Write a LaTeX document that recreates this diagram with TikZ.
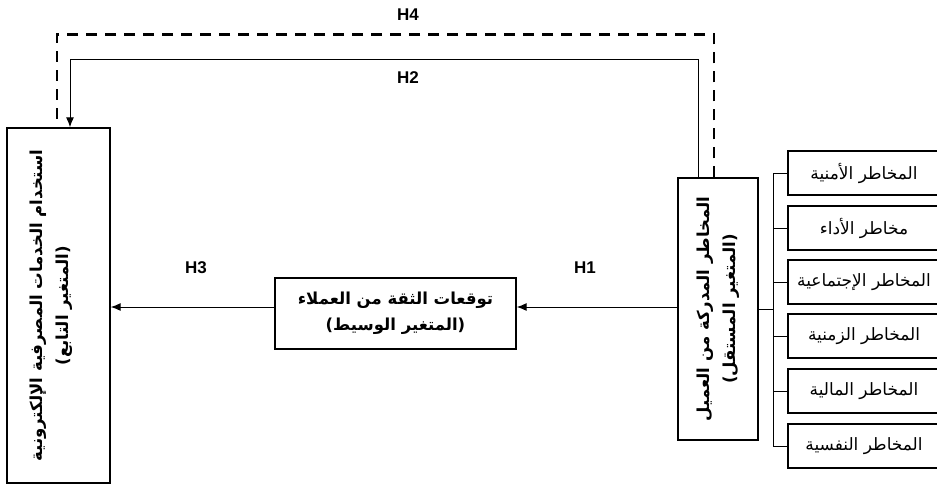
\documentclass[tikz,border=0pt]{standalone}
\usepackage{fontspec}
\setmainfont{Liberation Sans}
\newfontfamily\arabicfont[Script=Arabic]{DejaVu Sans}
\TeXXeTstate=1
\usetikzlibrary{arrows.meta}
\begin{document}
\begin{tikzpicture}[x=1pt,y=-1pt,
  boxst/.style={draw,line width=1.4pt,inner sep=0pt},
  smallbox/.style={draw,line width=1.1pt,minimum width=152pt,minimum height=44pt,inner sep=0pt,font=\arabicfont\fontsize{17}{20}\selectfont},
  arr/.style={line width=1pt,-{Latex[length=10pt,width=8pt]}},
  thin/.style={line width=1pt},
  dsh/.style={line width=2.8pt,dash pattern=on 11pt off 8pt},
  hlab/.style={font=\bfseries\fontsize{17}{20}\selectfont},
  btext/.style={font=\arabicfont\bfseries\fontsize{16.5}{26}\selectfont,align=center}
]
\useasboundingbox (0,0) rectangle (937,490);
\fill[white] (0,0) rectangle (937,490);

% left box (dependent)
\node[boxst,minimum width=103pt,minimum height=355pt] (dv) at (58.5,305.5) {};
\node[btext,rotate=90] (dvt) at ([xshift=-7pt]dv.center) {\beginR استخدام الخدمات المصرفية الإلكترونية\endR\\\beginR (المتغير التابع)\endR};

% right box (independent)
\node[boxst,minimum width=80pt,minimum height=262pt] (iv) at (718,309) {};
\node[btext,rotate=90] (ivt) at (iv.center) {\beginR المخاطر المدركة من العميل\endR\\\beginR (المتغير المستقل)\endR};

% middle box (mediator)
\node[boxst,minimum width=241pt,minimum height=71pt] (mid) at (395.5,313.5) {};
\node[btext] (midt) at (mid.center) {\beginR توقعات الثقة من العملاء\endR\\\beginR (المتغير الوسيط)\endR};

% small boxes
\node[smallbox] (s1) at (864,173) {\beginR المخاطر الأمنية\endR};
\node[smallbox] (s2) at (864,228) {\beginR مخاطر الأداء\endR};
\node[smallbox] (s3) at (864,282) {\beginR المخاطر الإجتماعية\endR};
\node[smallbox] (s4) at (864,336) {\beginR المخاطر الزمنية\endR};
\node[smallbox] (s5) at (864,391) {\beginR المخاطر المالية\endR};
\node[smallbox] (s6) at (864,446) {\beginR المخاطر النفسية\endR};

% bracket
\coordinate (bx) at (773,309);
\draw[thin] (iv.east) -- (bx);
\draw[thin] (s1.west -| bx) -- (s6.west -| bx);
\foreach \i in {1,...,6}{\draw[thin] (s\i.west -| bx) -- (s\i.west);}

% H1 and H3
\draw[arr] ([yshift=6.5pt]mid.east -| iv.west) -- ([yshift=6.5pt]mid.east);
\draw[arr] ([yshift=6.5pt]mid.west) -- ([yshift=6.5pt]mid.west -| dv.east);

% H2
\draw[arr] ([xshift=-20pt]iv.north) |- ([xshift=11.5pt,yshift=68pt]dv.north) -- ([xshift=11.5pt]dv.north);
% H4
\draw[dsh] ([xshift=-4pt]iv.north) |- ([xshift=-1.5pt,yshift=93pt]dv.north) -- ([xshift=-1.5pt]dv.north);

% labels
\node[hlab] (h4) at (408,15) {H4};
\node[hlab] (h2) at (408,78) {H2};
\node[hlab] (h1) at (585,268) {H1};
\node[hlab] (h3) at (196,268) {H3};
\end{tikzpicture}
\end{document}
